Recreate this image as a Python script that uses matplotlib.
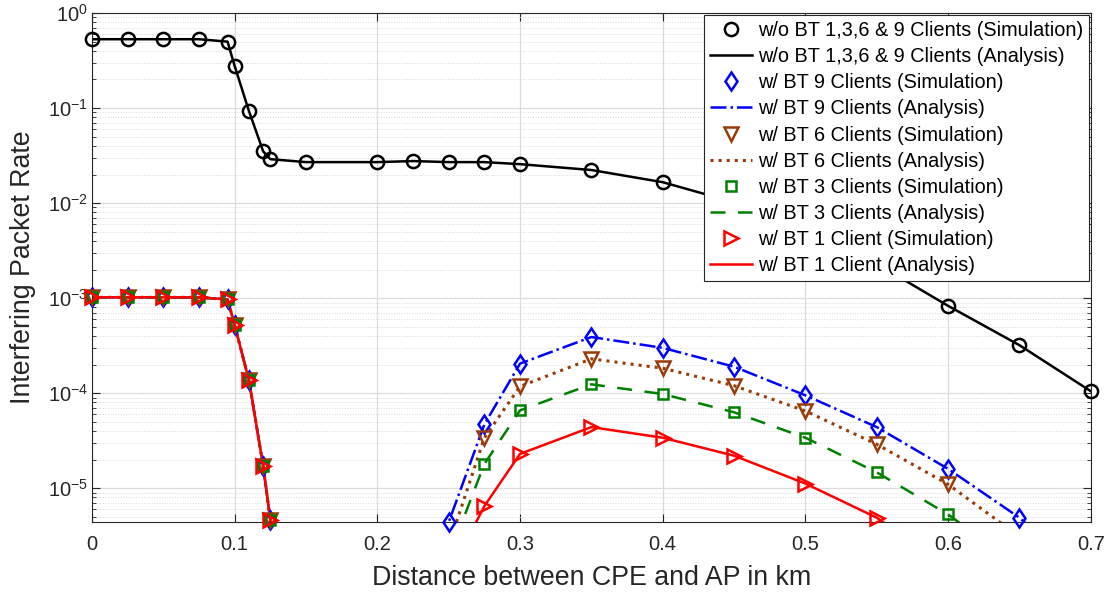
import numpy as np
import matplotlib.pyplot as plt
from matplotlib.ticker import LogLocator, NullFormatter

plt.rcParams['font.family'] = ['Liberation Sans', 'DejaVu Sans']

# distance in km
dist = [0, 0.025, 0.05, 0.075, 0.095, 0.1, 0.11, 0.12, 0.125, 0.15, 0.2, 0.225,
        0.25, 0.275, 0.3, 0.35, 0.4, 0.45, 0.5, 0.55, 0.6, 0.65, 0.7]

# without BT (same for 1,3,6 & 9 clients)
no_bt = [0.53, 0.53, 0.53, 0.53, 0.5, 0.277, 0.093, 0.035, 0.029, 0.027, 0.027, 0.0277,
         0.027, 0.027, 0.0257, 0.0223, 0.0166, 0.0102, 0.0055, 0.0023, 8.3e-4, 3.2e-4, 1.05e-4]

# with BT, per number of clients (values below the axis are kept tiny)
bt9 = [1.02e-3, 1.02e-3, 1.02e-3, 1.02e-3, 9.7e-4, 5.2e-4, 1.37e-4, 1.7e-5, 4.6e-6, 1e-8, 1e-8, 1e-8,
       4.4e-6, 4.7e-5, 2.05e-4, 3.9e-4, 3.0e-4, 1.9e-4, 9.5e-5, 4.4e-5, 1.6e-5, 4.9e-6, 1e-6]
bt6 = [1.02e-3, 1.02e-3, 1.02e-3, 1.02e-3, 9.7e-4, 5.2e-4, 1.37e-4, 1.7e-5, 4.6e-6, 1e-8, 1e-8, 1e-8,
       2.5e-6, 3.4e-5, 1.18e-4, 2.3e-4, 1.83e-4, 1.2e-4, 6.5e-5, 2.9e-5, 1.1e-5, 3.1e-6, 5e-7]
bt3 = [1.02e-3, 1.02e-3, 1.02e-3, 1.02e-3, 9.7e-4, 5.2e-4, 1.37e-4, 1.7e-5, 4.6e-6, 1e-8, 1e-8, 1e-8,
       1.9e-6, 1.8e-5, 6.6e-5, 1.24e-4, 9.8e-5, 6.3e-5, 3.4e-5, 1.47e-5, 5.3e-6, 1.5e-6, 2e-7]
bt1 = [1.02e-3, 1.02e-3, 1.02e-3, 1.02e-3, 9.7e-4, 5.2e-4, 1.37e-4, 1.7e-5, 4.6e-6, 1e-8, 1e-8, 1e-8,
       1.2e-6, 6.5e-6, 2.3e-5, 4.4e-5, 3.4e-5, 2.2e-5, 1.12e-5, 4.9e-6, 1.5e-6, 4e-7, 1e-7]

ymin, ymax = 4.4e-6, 1
brown = '#9A3C0A'
green = '#008000'
axcol = '#262626'

fig = plt.figure(figsize=(11.11, 5.92), dpi=100)
ax = fig.add_axes([0.0828, 0.118, 0.899, 0.86])


def sim(y):
    # markers are not clipped at the box (like MATLAB), so drop the ones out of range
    y = np.array(y)
    return np.where(y >= ymin * 0.98, y, np.nan)


mk = dict(mfc='none', mew=1.8, ls='none', clip_on=False, zorder=4)
ax.plot(dist, sim(no_bt), 'o', color='k', ms=9.5, label='w/o BT 1,3,6 & 9 Clients (Simulation)', **mk)
ax.plot(dist, no_bt, '-', color='k', lw=1.8, label='w/o BT 1,3,6 & 9 Clients (Analysis)')
ax.plot(dist, sim(bt9), 'd', color='b', ms=9.5, label='w/ BT 9 Clients (Simulation)', **mk)
ax.plot(dist, bt9, '-.', color='b', lw=1.8, label='w/ BT 9 Clients (Analysis)')
ax.plot(dist, sim(bt6), 'v', color=brown, ms=9.5, label='w/ BT 6 Clients (Simulation)', **mk)
ax.plot(dist, bt6, ':', color=brown, lw=2.2, label='w/ BT 6 Clients (Analysis)')
ax.plot(dist, sim(bt3), 's', color=green, ms=6.5, label='w/ BT 3 Clients (Simulation)', **mk)
ax.plot(dist, bt3, '--', color=green, lw=1.8, dashes=(6, 5), label='w/ BT 3 Clients (Analysis)')
ax.plot(dist, sim(bt1), '>', color='r', ms=9.5, label='w/ BT 1 Client (Simulation)', **mk)
ax.plot(dist, bt1, '-', color='r', lw=1.8, label='w/ BT 1 Client (Analysis)')

ax.set_yscale('log')
ax.set_xlim(0, 0.7)
ax.set_ylim(ymin, ymax)
ax.set_xticks(np.arange(0, 0.71, 0.1))
ax.set_xticklabels(['0', '0.1', '0.2', '0.3', '0.4', '0.5', '0.6', '0.7'])
ax.yaxis.set_major_locator(LogLocator(base=10, numticks=10))
ax.yaxis.set_minor_locator(LogLocator(base=10, subs=np.arange(2, 10), numticks=20))
ax.yaxis.set_minor_formatter(NullFormatter())

ax.grid(True, which='major', color='#dcdcdc', lw=0.9)
ax.grid(True, which='minor', axis='y', color='#d8d8d8', lw=0.7, ls=':')
ax.set_axisbelow(True)
ax.tick_params(which='both', direction='in', top=True, right=True, colors=axcol, labelsize=14.5)
ax.tick_params(axis='x', which='major', length=6, pad=9)
ax.tick_params(axis='y', which='major', length=6, pad=3)
ax.tick_params(which='minor', length=3)
for s in ax.spines.values():
    s.set_color(axcol)

ax.set_xlabel('Distance between CPE and AP in km', fontsize=19.3, color=axcol, labelpad=8)
ax.set_ylabel('Interfering Packet Rate', fontsize=19.3, color=axcol, labelpad=8)

leg = ax.legend(loc='upper right', fontsize=14.3, fancybox=False, edgecolor=axcol,
                borderaxespad=0.1, handlelength=2.1, handletextpad=0.3, labelspacing=0.36,
                framealpha=1, borderpad=0.3)
leg.get_frame().set_linewidth(0.8)

fig.savefig('out.png', dpi=100)
